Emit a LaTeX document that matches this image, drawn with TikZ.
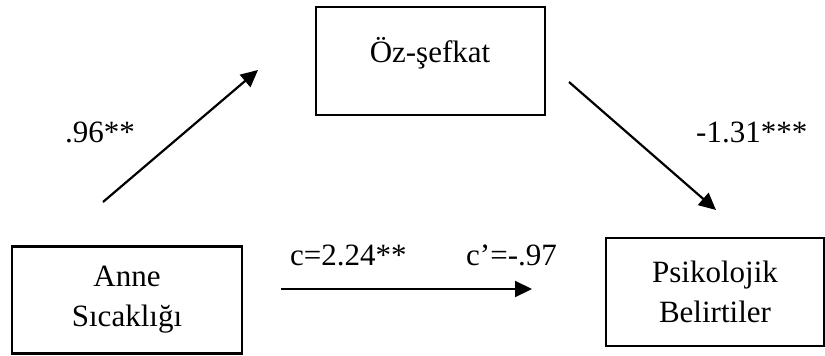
\documentclass[tikz,border=0pt]{standalone}
\usepackage{fontspec}
\setmainfont{Liberation Serif}
\usetikzlibrary{arrows.meta}
\begin{document}
\begin{tikzpicture}[x=1pt,y=-1pt,
  box/.style={draw=black,line width=2.6pt,inner sep=0pt,align=center,font=\fontsize{31}{40}\selectfont},
  lbl/.style={inner sep=0pt,anchor=base west,font=\fontsize{31}{40}\selectfont},
  conn/.style={line width=2.2pt,-{Triangle[length=17pt,width=16pt]}}]
\useasboundingbox (0,0) rectangle (825,356);
\node[box,minimum width=230pt,minimum height=107pt] (anne) at (127,300) {Anne\\Sıcaklığı};
\node[box,minimum width=229pt,minimum height=108pt] (oz) at (430.5,61) {};
\node[inner sep=0pt,anchor=base,font=\fontsize{31}{40}\selectfont] (oztext) at (430,62) {Öz-şefkat};
\node[box,minimum width=218pt,minimum height=108pt] (psi) at (715,292) {Psikolojik\\Belirtiler};
\coordinate (a1s) at (103,202);
\coordinate (a1e) at (258,70);
\coordinate (a2s) at (569,82);
\coordinate (a2e) at (716,210);
\coordinate (a3s) at (281,289);
\coordinate (a3e) at (532,289);
\draw[conn] (a1s) -- (a1e);
\draw[conn] (a2s) -- (a2e);
\draw[conn] (a3s) -- (a3e);
\node[lbl] (l1) at (65,142) {.96**};
\node[lbl] (l2) at (696,142) {-1.31***};
\node[lbl] (l3) at (290,265) {c=2.24**};
\node[lbl] (l4) at (466,265) {c’=-.97};
\end{tikzpicture}
\end{document}
